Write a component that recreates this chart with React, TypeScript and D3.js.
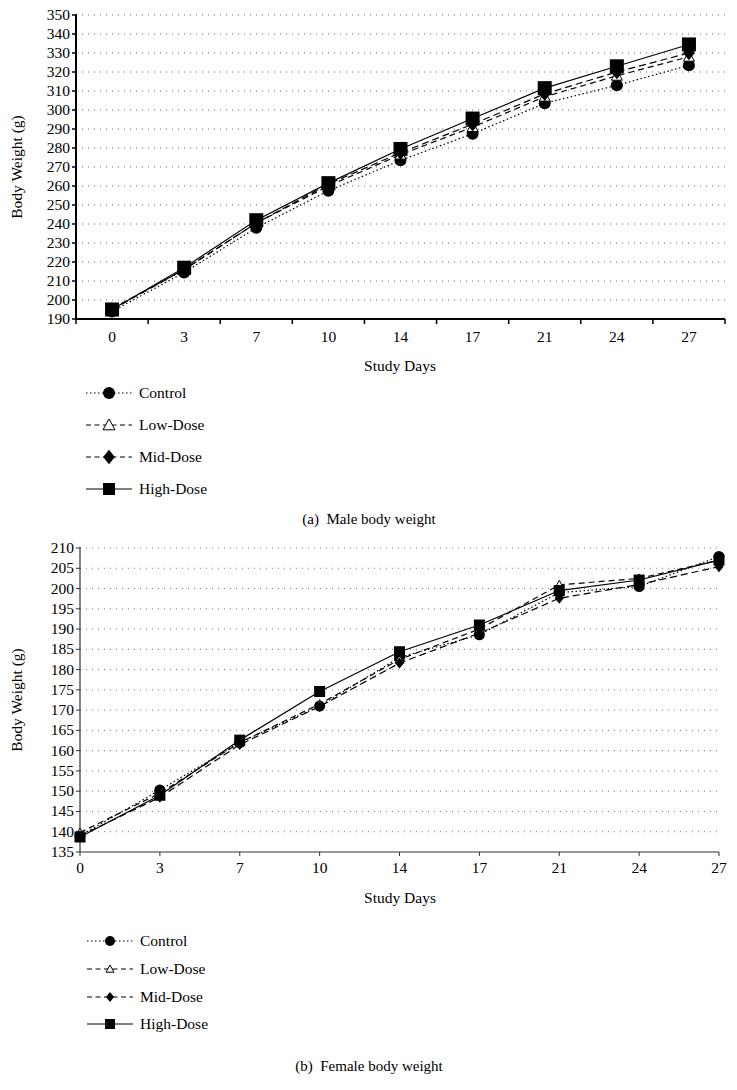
import React from "react";
import * as d3 from "d3";

const days = ["0", "3", "7", "10", "14", "17", "21", "24", "27"];
const seriesNames = ["Control", "Low-Dose", "Mid-Dose", "High-Dose"];

const maleControl = [194, 214.5, 238, 257.5, 273.5, 287.5, 303.5, 313, 323.5];
const maleLow = [195.5, 216, 240.5, 260, 276.5, 291, 307, 318, 328];
const maleMid = [195, 216, 240.5, 261, 277.5, 292.5, 308.5, 320, 330];
const maleHigh = [195, 217, 242, 261.5, 279.5, 295.5, 311.5, 323, 334.5];

const femaleControl = [139, 150.3, 162, 171, 183, 188.6, 199, 200.5, 207.9];
const femaleLow = [139.8, 149.5, 162, 171.5, 182.5, 190, 200.9, 202.5, 207];
const femaleMid = [139, 148.5, 161.5, 170.9, 181.6, 189, 197.6, 201, 205.4];
const femaleHigh = [138.7, 149, 162.6, 174.6, 184.4, 191, 199.5, 202.1, 207];

const maleYTicks = d3.range(190, 351, 10);
const femaleYTicks = d3.range(135, 211, 5);

const FONT = "'Liberation Serif', 'Times New Roman', serif";
const FS = 15.5;

const styles = [
  { dash: "1.5 2.5", marker: "circle" },
  { dash: "6 4", marker: "triangle" },
  { dash: "7 4", marker: "diamond" },
  { dash: "", marker: "square" },
];

function Marker({ type, x, y, s }: { type: string; x: number; y: number; s: number }) {
  if (type === "circle") return <circle cx={x} cy={y} r={s * 0.5} fill="#000" />;
  if (type === "square")
    return <rect x={x - s / 2} y={y - s / 2} width={s} height={s} fill="#000" />;
  if (type === "diamond") {
    const h = s * 0.55;
    const w = s * 0.45;
    return <path d={`M${x},${y - h}L${x + w},${y}L${x},${y + h}L${x - w},${y}Z`} fill="#000" />;
  }
  const h = s * 0.5;
  return (
    <path
      d={`M${x},${y - h}L${x + h},${y + h * 0.8}L${x - h},${y + h * 0.8}Z`}
      fill="#fff"
      stroke="#000"
      strokeWidth={1}
    />
  );
}

function Legend({ x, ys, markerSizes }: { x: number; ys: number[]; markerSizes: number[] }) {
  return (
    <g>
      {seriesNames.map((n, i) => (
        <g key={n}>
          <line
            x1={x}
            x2={x + 46}
            y1={ys[i]}
            y2={ys[i]}
            stroke="#000"
            strokeWidth={1}
            strokeDasharray={i === 0 ? "1.5 2.5" : i === 3 ? "" : "5 3.5"}
          />
          <Marker type={styles[i].marker} x={x + 23} y={ys[i]} s={markerSizes[i]} />
          <text x={x + 53} y={ys[i] + 5} fontFamily={FONT} fontSize={FS}>
            {n}
          </text>
        </g>
      ))}
    </g>
  );
}

function MaleChart() {
  const left = 76,
    right = 725,
    top = 15,
    bottom = 319;
  const x = d3.scaleBand<string>().domain(days).range([left, right]).padding(0);
  const y = d3.scaleLinear().domain([190, 350]).range([bottom, top]);
  const data = [maleControl, maleLow, maleMid, maleHigh];
  const line = d3
    .line<number>()
    .x((_, i) => (x(days[i]) as number) + x.bandwidth() / 2)
    .y((d) => y(d));
  const msz = [12, 11, 13, 14];
  return (
    <g>
      {maleYTicks.slice(1).map((t) => (
        <line key={t} x1={left} x2={right} y1={y(t)} y2={y(t)} stroke="#666" strokeWidth={1} strokeDasharray="1 5" />
      ))}
      {maleYTicks.map((t) => (
        <g key={t}>
          <line x1={left - 4} x2={left} y1={y(t)} y2={y(t)} stroke="#000" strokeWidth={1.5} />
          <text x={left - 6} y={y(t) + 5} textAnchor="end" fontFamily={FONT} fontSize={FS}>
            {t}
          </text>
        </g>
      ))}
      {[...days.map((d) => x(d) as number), right].map((px, i) => (
        <line key={i} x1={px} x2={px} y1={bottom} y2={bottom + 5} stroke="#000" strokeWidth={1.5} />
      ))}
      <line x1={left} x2={left} y1={top - 1} y2={bottom} stroke="#000" strokeWidth={2} />
      <line x1={left} x2={right} y1={bottom} y2={bottom} stroke="#000" strokeWidth={2} />
      {days.map((d) => (
        <text key={d} x={(x(d) as number) + x.bandwidth() / 2} y={342} textAnchor="middle" fontFamily={FONT} fontSize={FS}>
          {d}
        </text>
      ))}
      <text x={400} y={371} textAnchor="middle" fontFamily={FONT} fontSize={FS}>
        Study Days
      </text>
      <text transform={`translate(22,167) rotate(-90)`} textAnchor="middle" fontFamily={FONT} fontSize={FS}>
        Body Weight (g)
      </text>
      {data.map((s, i) => (
        <path key={i} d={line(s) as string} fill="none" stroke="#000" strokeWidth={1.2} strokeDasharray={styles[i].dash} />
      ))}
      {data.map((s, i) =>
        s.map((v, j) => (
          <Marker key={`${i}-${j}`} type={styles[i].marker} x={(x(days[j]) as number) + x.bandwidth() / 2} y={y(v)} s={msz[i]} />
        ))
      )}
      <Legend x={86} ys={[393, 425, 457, 489]} markerSizes={[12, 12, 13, 12]} />
      <text x={369} y={524} textAnchor="middle" fontFamily={FONT} fontSize={15}>
        {"(a)\u00a0\u00a0Male body weight"}
      </text>
    </g>
  );
}

function FemaleChart() {
  const left = 80,
    right = 719,
    top = 548,
    bottom = 852;
  const x = d3.scalePoint<string>().domain(days).range([left, right]);
  const y = d3.scaleLinear().domain([135, 210]).range([bottom, top]);
  const data = [femaleControl, femaleLow, femaleMid, femaleHigh];
  const line = d3
    .line<number>()
    .x((_, i) => x(days[i]) as number)
    .y((d) => y(d));
  const msz = [11, 9, 10, 11];
  return (
    <g>
      {femaleYTicks.slice(1).map((t) => (
        <line key={t} x1={left} x2={right} y1={y(t)} y2={y(t)} stroke="#777" strokeWidth={1} strokeDasharray="1 5" />
      ))}
      {femaleYTicks.map((t) => (
        <g key={t}>
          <line x1={left - 4} x2={left} y1={y(t)} y2={y(t)} stroke="#333" strokeWidth={1} />
          <text x={left - 6} y={y(t) + 5} textAnchor="end" fontFamily={FONT} fontSize={FS}>
            {t}
          </text>
        </g>
      ))}
      {days.map((d) => (
        <line key={d} x1={x(d) as number} x2={x(d) as number} y1={bottom} y2={bottom + 4} stroke="#333" strokeWidth={1} />
      ))}
      <line x1={left} x2={left} y1={top - 1} y2={bottom} stroke="#333" strokeWidth={1.2} />
      <line x1={left} x2={right} y1={bottom} y2={bottom} stroke="#333" strokeWidth={1.2} />
      {days.map((d) => (
        <text key={d} x={x(d) as number} y={873} textAnchor="middle" fontFamily={FONT} fontSize={FS}>
          {d}
        </text>
      ))}
      <text x={400} y={903} textAnchor="middle" fontFamily={FONT} fontSize={FS}>
        Study Days
      </text>
      <text transform={`translate(22,700) rotate(-90)`} textAnchor="middle" fontFamily={FONT} fontSize={FS}>
        Body Weight (g)
      </text>
      {data.map((s, i) => (
        <path key={i} d={line(s) as string} fill="none" stroke="#000" strokeWidth={1.2} strokeDasharray={styles[i].dash} />
      ))}
      {data.map((s, i) =>
        s.map((v, j) => (
          <Marker key={`${i}-${j}`} type={styles[i].marker} x={x(days[j]) as number} y={y(v)} s={msz[i]} />
        ))
      )}
      <Legend x={87} ys={[941, 969, 997, 1024]} markerSizes={[10, 8, 9, 10]} />
      <text x={369} y={1071} textAnchor="middle" fontFamily={FONT} fontSize={15}>
        {"(b)\u00a0\u00a0Female body weight"}
      </text>
    </g>
  );
}

export default function App() {
  return (
    <svg width={737} height={1090} style={{ position: "absolute", left: 0, top: 0, background: "#fff" }}>
      <rect width={737} height={1090} fill="#fff" />
      <MaleChart />
      <FemaleChart />
    </svg>
  );
}
